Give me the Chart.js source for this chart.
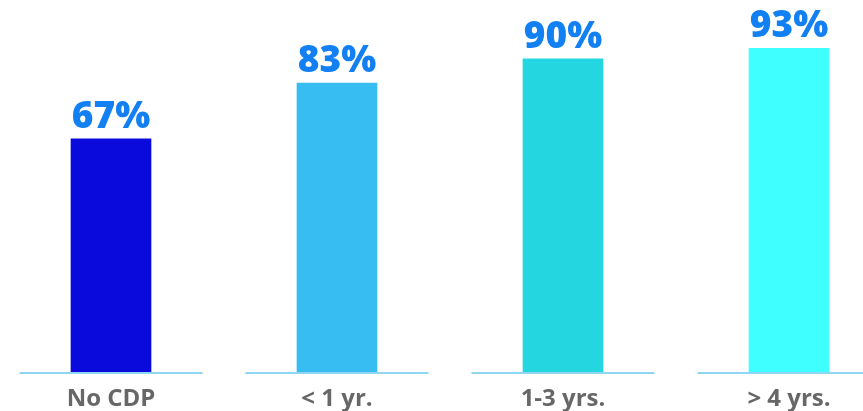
<!DOCTYPE html>
<html>
<head>
<meta charset="utf-8">
<script src="https://cdn.jsdelivr.net/npm/chart.js@4"></script>
<style>
  html, body { margin: 0; padding: 0; background: #fff; overflow: hidden; }
  #wrap { position: absolute; left: -2px; top: 0; width: 904px; height: 411px; }
</style>
</head>
<body>
<div id="wrap"><canvas id="chart"></canvas></div>
<script>
const categories = ["No CDP", "< 1 yr.", "1-3 yrs.", "> 4 yrs."];
const values = [67, 83, 90, 93];
const barColors = ["#0a0adc", "#38bdf2", "#24d6e0", "#40ffff"];

// 막대 위 퍼센트 라벨
const valueLabels = {
    id: "valueLabels",
    afterDatasetsDraw(chart) {
        const ctx = chart.ctx;
        const meta = chart.getDatasetMeta(0);
        ctx.save();
        ctx.font = "800 37px 'Open Sans'";
        ctx.fillStyle = "#1280f2";
        ctx.textAlign = "center";
        ctx.textBaseline = "alphabetic";
        meta.data.forEach((bar, i) => {
            ctx.fillText(values[i] + "%", bar.x, bar.y - 11);
        });
        ctx.restore();
    }
};

// 카테고리별 바닥선
const baseLines = {
    id: "baseLines",
    beforeDatasetsDraw(chart) {
        const ctx = chart.ctx;
        const x = chart.scales.x;
        const y = chart.chartArea.bottom + 1;
        ctx.save();
        ctx.strokeStyle = "#8fd6f2";
        ctx.lineWidth = 2;
        categories.forEach((c, i) => {
            const cx = x.getPixelForValue(i);
            ctx.beginPath();
            ctx.moveTo(cx - 91.5, y);
            ctx.lineTo(cx + 91.5, y);
            ctx.stroke();
        });
        ctx.restore();
    }
};

new Chart(document.getElementById("chart"), {
    type: "bar",
    data: {
        labels: categories,
        datasets: [{
            data: values,
            backgroundColor: barColors,
            barThickness: 80,
            borderWidth: 0
        }]
    },
    options: {
        responsive: true,
        maintainAspectRatio: false,
        animation: false,
        layout: { padding: { top: 24, left: 0, right: 0, bottom: 0 } },
        plugins: { legend: { display: false }, tooltip: { enabled: false } },
        scales: {
            y: { display: false, min: 0, max: 100 },
            x: {
                grid: { display: false, drawTicks: false },
                border: { display: false },
                afterFit(scale) { scale.height = 39; },
                ticks: {
                    color: "#676767",
                    padding: 13,
                    font: { family: "'Open Sans'", size: 24, weight: "700" }
                }
            }
        }
    },
    plugins: [baseLines, valueLabels]
});
</script>
</body>
</html>
